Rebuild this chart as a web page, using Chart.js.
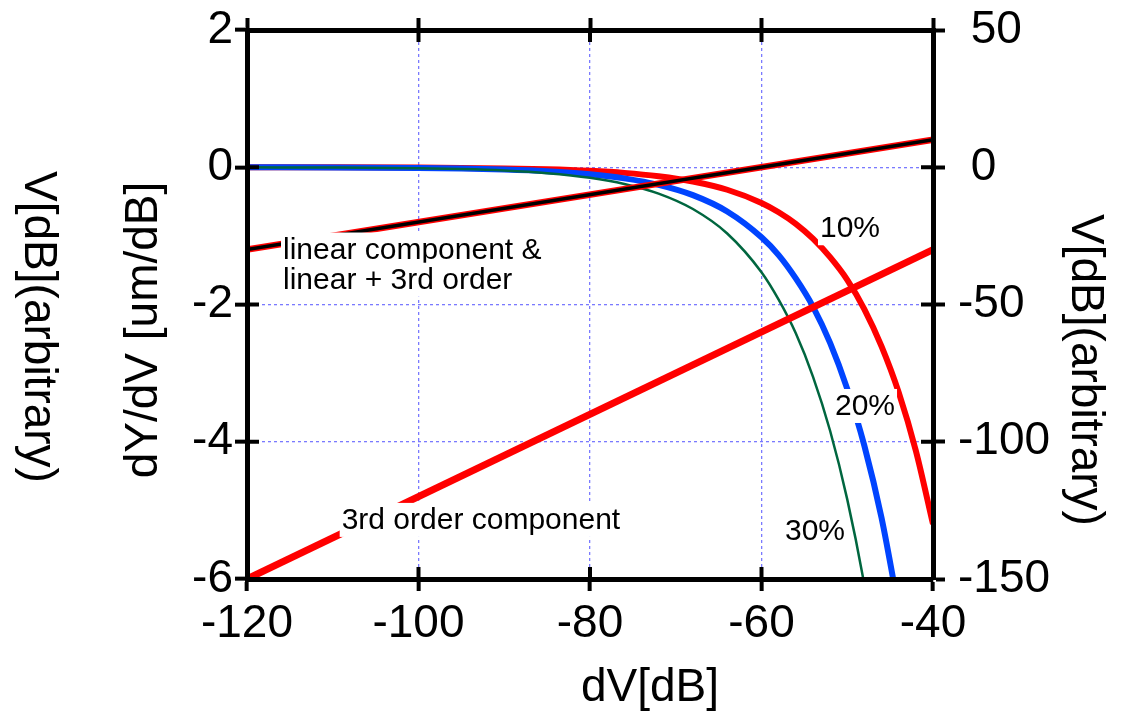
<!DOCTYPE html>
<html>
<head>
<meta charset="utf-8">
<script src="https://cdn.jsdelivr.net/npm/chart.js@4/dist/chart.umd.min.js"></script>
<style>
html,body{margin:0;padding:0;background:#fff;}
canvas{display:block;}
</style>
</head>
<body>
<canvas id="c" width="1131" height="718"></canvas>
<script>
// ---- data ----
const dV = [-120,-110,-100,-95,-90,-85,-80,-76,-72,-68,-64,-60,-58,-56,-54,-52,-50,-48,-46,-44,-42,-40];
const dYdV10 = [-0.0005,-0.0016,-0.0052,-0.0092,-0.0164,-0.029,-0.052,-0.082,-0.131,-0.207,-0.328,-0.52,-0.655,-0.824,-1.04,-1.31,-1.64,-2.07,-2.61,-3.28,-4.13,-5.2];
const dYdV20 = [-0.001,-0.003,-0.010,-0.018,-0.032,-0.057,-0.102,-0.162,-0.256,-0.406,-0.644,-1.02,-1.28,-1.62,-2.03,-2.56,-3.23,-4.06,-5.11,-6.44,null,null];
const dYdV30 = [-0.0015,-0.005,-0.015,-0.027,-0.048,-0.086,-0.153,-0.243,-0.384,-0.609,-0.965,-1.53,-1.93,-2.42,-3.05,-3.84,-4.84,-6.09,-7.67,null,null,null];
const compX = [-120, -40];
const linearComp = [-30, 10];
const thirdOrderComp = [-150, -30];

const xTicks = [-120, -100, -80, -60, -40];
const yLeftTicks = [-6, -4, -2, 0, 2];
const yRightTicks = [-150, -100, -50, 0, 50];

const xTitle = 'dV[dB]';
const yLeftTitle = 'dY/dV [um/dB]';
const yRightTitle = 'V[dB](arbitrary)';

const notes = [
  {text: 'linear component &', x: -115.8, y: -1.33},
  {text: 'linear + 3rd order', x: -115.8, y: -1.77},
  {text: '3rd order component', x: -108.96, y: -5.27},
  {text: '10%', x: -53.18, y: -1.02},
  {text: '20%', x: -51.43, y: -3.61},
  {text: '30%', x: -57.26, y: -5.43}
];

// ---- helpers ----
const FONT = "'Liberation Sans', Arial, Helvetica, sans-serif";
Chart.defaults.font.family = FONT;
Chart.defaults.color = '#000';

function pts(xs, ys) {
  const out = [];
  xs.forEach((x, i) => { if (ys[i] !== null && ys[i] !== undefined) out.push({x: x, y: ys[i]}); });
  return out;
}
function setTicks(arr) { return s => { s.ticks = arr.map(v => ({value: v})); }; }

const GRID = '#7a7aff';

const innerTicks = {
  id: 'innerTicks',
  afterDraw(chart) {
    const {ctx, chartArea: a, scales} = chart;
    const L = 12;
    ctx.save();
    ctx.strokeStyle = '#000';
    ctx.lineWidth = 4;
    const seg = (x1, y1, x2, y2) => { ctx.beginPath(); ctx.moveTo(x1, y1); ctx.lineTo(x2, y2); ctx.stroke(); };
    xTicks.forEach(v => {
      const p = scales.x.getPixelForValue(v);
      seg(p, a.bottom, p, a.bottom - L);
      seg(p, a.top, p, a.top + L);
    });
    yLeftTicks.forEach(v => { const p = scales.y.getPixelForValue(v); seg(a.left, p, a.left + L, p); });
    yRightTicks.forEach(v => { const p = scales.y2.getPixelForValue(v); seg(a.right, p, a.right - L, p); });
    ctx.restore();
  }
};

const notesPlugin = {
  id: 'notes',
  afterDatasetsDraw(chart) {
    const {ctx, scales} = chart;
    ctx.save();
    ctx.font = '30px ' + FONT;
    ctx.textBaseline = 'alphabetic';
    ctx.textAlign = 'left';
    notes.forEach(n => {
      const px = scales.x.getPixelForValue(n.x);
      const py = scales.y.getPixelForValue(n.y);
      const w = ctx.measureText(n.text).width;
      ctx.fillStyle = '#fff';
      ctx.fillRect(px - 2, py - 26, w + 4, 34);
      ctx.fillStyle = '#000';
      ctx.fillText(n.text, px, py);
    });
    ctx.restore();
  }
};

const titlesPlugin = {
  id: 'titles',
  afterDraw(chart) {
    const {ctx} = chart;
    ctx.save();
    ctx.fillStyle = '#000';
    ctx.font = '46px ' + FONT;
    ctx.textAlign = 'center';
    ctx.textBaseline = 'alphabetic';
    // bottom axis title
    ctx.fillText(xTitle, 650, 701);
    // left axis title (reads bottom to top)
    ctx.save(); ctx.translate(157, 330); ctx.rotate(-Math.PI / 2); ctx.fillText(yLeftTitle, 0, 0); ctx.restore();
    // far-left duplicate title (reads top to bottom)
    ctx.save(); ctx.translate(25, 327); ctx.rotate(Math.PI / 2); ctx.fillText(yRightTitle, 0, 0); ctx.restore();
    // right axis title (reads top to bottom)
    ctx.save(); ctx.translate(1072, 370); ctx.rotate(Math.PI / 2); ctx.fillText(yRightTitle, 0, 0); ctx.restore();
    ctx.restore();
  }
};

const baseLine = {pointRadius: 0, pointHoverRadius: 0, fill: false};
const noPadV = s => { s.paddingTop = 0; s.paddingBottom = 0; };
const noPadH = s => { s.paddingLeft = 0; s.paddingRight = 0; };

new Chart(document.getElementById('c'), {
  type: 'line',
  data: {
    datasets: [
      Object.assign({label: 'linear (core)', data: pts(compX, linearComp), yAxisID: 'y2', borderColor: '#000', borderWidth: 3.5, order: 0}, baseLine),
      Object.assign({label: 'linear component & linear + 3rd order', data: pts(compX, linearComp), yAxisID: 'y2', borderColor: '#ff0000', borderWidth: 6.5, order: 1}, baseLine),
      Object.assign({label: '3rd order component', data: pts(compX, thirdOrderComp), yAxisID: 'y2', borderColor: '#ff0000', borderWidth: 7, order: 2}, baseLine),
      Object.assign({label: '30%', data: pts(dV, dYdV30), yAxisID: 'y', borderColor: '#00663f', borderWidth: 2.5, cubicInterpolationMode: 'monotone', order: 3}, baseLine),
      Object.assign({label: '20%', data: pts(dV, dYdV20), yAxisID: 'y', borderColor: '#0044ff', borderWidth: 6, cubicInterpolationMode: 'monotone', order: 4}, baseLine),
      Object.assign({label: '10%', data: pts(dV, dYdV10), yAxisID: 'y', borderColor: '#ff0000', borderWidth: 6, cubicInterpolationMode: 'monotone', order: 5}, baseLine)
    ]
  },
  options: {
    responsive: false,
    animation: false,
    devicePixelRatio: 1,
    layout: {padding: 0},
    plugins: {legend: {display: false}, tooltip: {enabled: false}},
    scales: {
      x: {
        type: 'linear', position: 'bottom', min: -120, max: -40,
        afterBuildTicks: setTicks(xTicks),
        ticks: {font: {size: 46}, padding: 6, maxRotation: 0, autoSkip: false, callback: v => String(v)},
        grid: {color: GRID, lineWidth: 1.3, tickColor: '#000', tickLength: 12, tickWidth: 4},
        border: {color: '#000', width: 5, dash: [3, 3], z: 1},
        afterFit: s => { s.height = 139; noPadH(s); }
      },
      x2: {
        type: 'linear', position: 'top', min: -120, max: -40,
        afterBuildTicks: setTicks(xTicks),
        ticks: {display: false},
        grid: {drawOnChartArea: false, tickColor: '#000', tickLength: 12, tickWidth: 4},
        border: {color: '#000', width: 5, z: 1},
        afterFit: s => { s.height = 30; noPadH(s); }
      },
      y: {
        type: 'linear', position: 'left', min: -6, max: 2,
        afterBuildTicks: setTicks(yLeftTicks),
        ticks: {font: {size: 46}, padding: 2, callback: v => String(v)},
        grid: {color: GRID, lineWidth: 1.3, tickColor: '#000', tickLength: 12, tickWidth: 4},
        border: {color: '#000', width: 5, dash: [3, 3], z: 1},
        afterFit: s => { s.width = 247; noPadV(s); }
      },
      y2: {
        type: 'linear', position: 'right', min: -150, max: 50,
        afterBuildTicks: setTicks(yRightTicks),
        ticks: {font: {size: 46}, padding: 13, callback: v => (v >= 0 ? ' ' : '') + v},
        grid: {drawOnChartArea: false, tickColor: '#000', tickLength: 12, tickWidth: 4},
        border: {color: '#000', width: 5, z: 1},
        afterFit: s => { s.width = 1131 - 933; noPadV(s); }
      }
    }
  },
  plugins: [notesPlugin, innerTicks, titlesPlugin]
});
</script>
</body>
</html>
